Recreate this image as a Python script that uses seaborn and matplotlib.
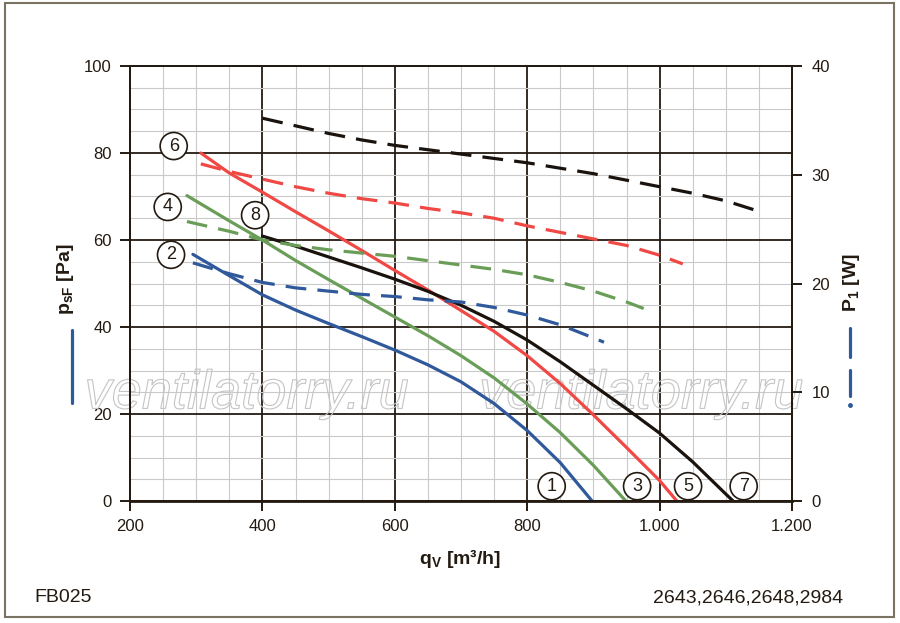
import seaborn as sns
import matplotlib.pyplot as plt
import matplotlib.patheffects as pe
from matplotlib.lines import Line2D
from matplotlib.patches import Rectangle

# pressure curves psF [Pa] over qV [m3/h]
q1 = [295, 350, 400, 450, 500, 550, 600, 650, 700, 750, 800, 850, 898]
p1 = [56.7, 51.8, 47.4, 43.9, 40.8, 37.8, 34.7, 31.3, 27.4, 22.4, 16.2, 8.8, 0]
q3 = [286, 350, 400, 450, 500, 550, 600, 650, 700, 750, 800, 850, 900, 949]
p3 = [70.2, 64.4, 60, 55.3, 50.9, 46.6, 42.3, 38, 33.4, 28.3, 22.3, 15.7, 8.2, 0]
q5 = [307, 350, 400, 450, 500, 550, 600, 650, 700, 750, 800, 850, 900, 950, 1000, 1026]
p5 = [80, 75.4, 71, 66.5, 62.1, 57.6, 53, 48.5, 43.8, 39.0, 33.4, 27.0, 19.8, 12.3, 4.7, 0]
q7 = [400, 450, 500, 550, 600, 650, 700, 750, 800, 850, 900, 950, 1000, 1050, 1100, 1111]
p7 = [60.9, 58.6, 56.1, 53.6, 51.0, 48.2, 45.0, 41.3, 37.0, 32.0, 26.6, 21.2, 15.6, 9.0, 1.6, 0]

# power curves P1 [W]
q2 = [295, 350, 400, 450, 500, 550, 600, 650, 700, 750, 800, 850, 900, 916]
w2 = [21.9, 20.9, 20.1, 19.6, 19.3, 19.0, 18.8, 18.5, 18.3, 17.8, 17.1, 16.2, 15.0, 14.6]
q4 = [286, 350, 400, 450, 500, 550, 600, 650, 700, 750, 800, 850, 900, 950, 976]
w4 = [25.7, 24.8, 24.0, 23.5, 23.1, 22.8, 22.5, 22.1, 21.7, 21.3, 20.8, 20.1, 19.3, 18.3, 17.7]
q6 = [307, 350, 400, 450, 500, 550, 600, 650, 700, 750, 800, 850, 900, 950, 1000, 1035]
w6 = [31.0, 30.3, 29.6, 28.9, 28.3, 27.8, 27.4, 26.9, 26.5, 26.0, 25.3, 24.7, 24.1, 23.5, 22.6, 21.8]
q8 = [400, 450, 500, 550, 600, 650, 700, 750, 800, 850, 900, 950, 1000, 1050, 1100, 1152]
w8 = [35.2, 34.5, 33.8, 33.2, 32.7, 32.3, 31.9, 31.5, 31.1, 30.6, 30.1, 29.5, 28.9, 28.3, 27.6, 26.6]

# curve number labels: (text, q, psF)
labels = [("6", 266, 81.6), ("4", 257, 67.6), ("2", 262, 56.6), ("8", 389, 65.7),
          ("1", 837, 3.4), ("3", 966, 3.4), ("5", 1043, 3.4), ("7", 1127, 3.4)]

blue = "#30599b"
green = "#6a9e58"
red = "#f04844"
black = "#1a120c"
ink = "#231a12"

sns.set_theme(style="white")
plt.rcParams["font.family"] = ["Liberation Sans", "DejaVu Sans"]
plt.rcParams["mathtext.default"] = "regular"

fig = plt.figure(figsize=(9, 6.23), dpi=100)
ax = fig.add_axes([130 / 900, 1 - 501 / 623, 662 / 900, 435 / 623])
ax2 = ax.twinx()

ax.set_xlim(200, 1200)
ax.set_ylim(0, 100)
ax2.set_ylim(0, 40)

ax.set_xticks(range(200, 1201, 200))
ax.set_xticks(range(200, 1201, 50), minor=True)
ax.set_yticks(range(0, 101, 20))
ax.set_yticks(range(0, 101, 5), minor=True)
ax.set_xticklabels(["200", "400", "600", "800", "1.000", "1.200"])
ax2.set_yticks([0, 10, 20, 30, 40])

ax.grid(which="minor", color="#c9c9c9", lw=0.8)
ax.grid(which="major", color=ink, lw=1.3)
ax.set_axisbelow(True)
ax2.grid(False)

for a in (ax, ax2):
    for s in a.spines.values():
        s.set_color(ink)
        s.set_linewidth(1.4)
        s.set_visible(True)
ax.spines["bottom"].set_linewidth(2)

ax.tick_params(which="major", direction="out", length=7, width=1.4, color=ink,
               labelsize=12, labelcolor=ink, pad=6, left=True, bottom=True)
ax.tick_params(which="minor", length=0)
ax2.tick_params(direction="out", length=7, width=1.4, color=ink,
                labelsize=12, labelcolor=ink, pad=7, right=True)

lw = 2.3
sns.lineplot(x=q1, y=p1, ax=ax, color=blue, linewidth=lw, zorder=3)
sns.lineplot(x=q3, y=p3, ax=ax, color=green, linewidth=lw, zorder=3)
sns.lineplot(x=q5, y=p5, ax=ax, color=red, linewidth=lw, zorder=3)
sns.lineplot(x=q7, y=p7, ax=ax, color=black, linewidth=lw, zorder=3)

dash = (0, (6.5, 3.5))
sns.lineplot(x=q2, y=w2, ax=ax2, color=blue, linewidth=lw, linestyle=dash)
sns.lineplot(x=q4, y=w4, ax=ax2, color=green, linewidth=lw, linestyle=dash)
sns.lineplot(x=q6, y=w6, ax=ax2, color=red, linewidth=lw, linestyle=dash)
sns.lineplot(x=q8, y=w8, ax=ax2, color=black, linewidth=lw, linestyle=dash)
ax2.set_ylim(0, 40)

ax.set_xlabel("")
ax.set_ylabel("")
ax2.set_ylabel("")

# watermark
for xw in (376, 972):
    ax.text(xw, 24.5, "ventilatorry.ru", fontsize=39, style="italic", ha="center",
            va="center", color=(0, 0, 0, 0), zorder=1.5,
            path_effects=[pe.Stroke(linewidth=0.8, foreground="#c4c4c4")])

for t, xq, yp in labels:
    ax2.text(xq, yp, t, transform=ax.transData, fontsize=13, color=ink,
             ha="center", va="center", zorder=6,
             bbox=dict(boxstyle="circle,pad=0.28", fc="white", ec=ink, lw=1.2))

fig.text(460 / 900, 1 - 558 / 623, "q$_V$ [m³/h]", fontsize=14, fontweight="bold",
         ha="center", va="center", color=ink)
fig.text(65 / 900, 1 - 279 / 623, "p$_{sF}$ [Pa]", fontsize=14, fontweight="bold",
         rotation=90, ha="center", va="center", color=ink)
fig.text(851 / 900, 1 - 283 / 623, "P$_1$ [W]", fontsize=14, fontweight="bold",
         rotation=90, ha="center", va="center", color=ink)
fig.text(34 / 900, 1 - 598 / 623, "FB025", fontsize=14, ha="left", va="center", color=ink)
fig.text(843 / 900, 1 - 598 / 623, "2643,2646,2648,2984", fontsize=14, ha="right",
         va="center", color=ink)

# axis legend keys
fig.add_artist(Line2D([72 / 900, 72 / 900], [1 - 330 / 623, 1 - 403 / 623],
                      color=blue, lw=2.3, solid_capstyle="round"))
fig.add_artist(Line2D([850 / 900, 850 / 900], [1 - 328 / 623, 1 - 357 / 623],
                      color=blue, lw=2.3))
fig.add_artist(Line2D([850 / 900, 850 / 900], [1 - 370 / 623, 1 - 396 / 623],
                      color=blue, lw=2.3))
fig.add_artist(Line2D([850 / 900], [1 - 405 / 623], marker="o", ms=2.5,
                      color=blue, lw=0))

fig.add_artist(Rectangle((5 / 900, 1 - 617 / 623), 889 / 900, 614 / 623,
                         fill=False, ec="#7a7263", lw=1.5))

fig.savefig("out.png", dpi=100)
